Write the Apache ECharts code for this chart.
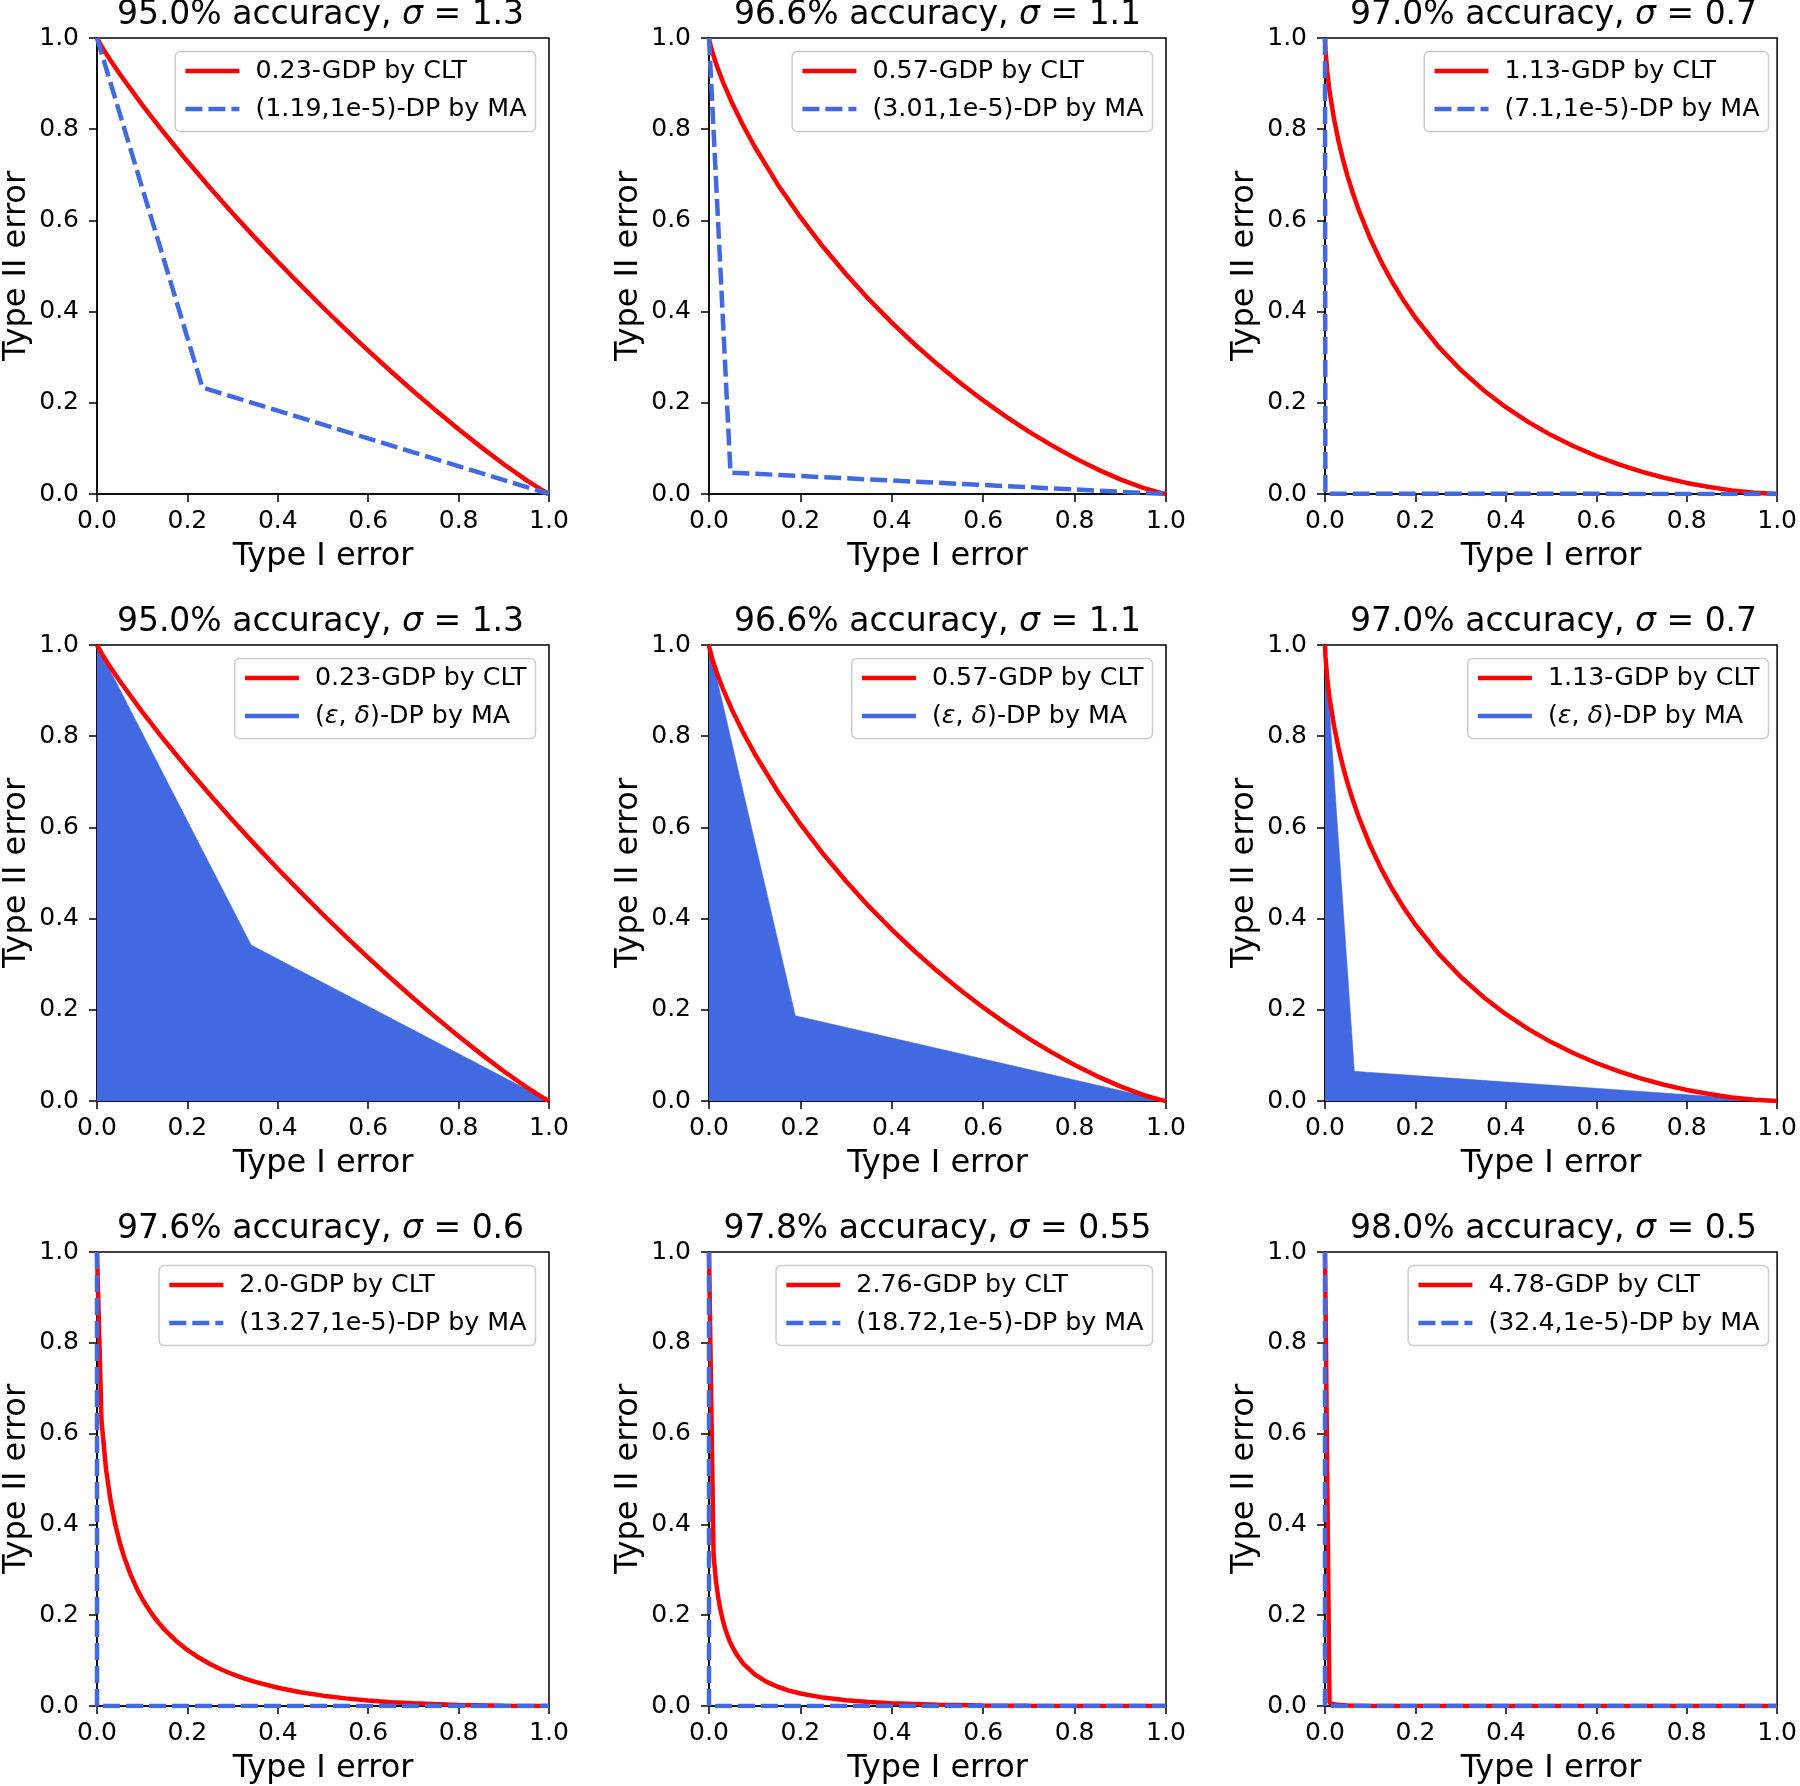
<!DOCTYPE html>
<html>
<head>
<meta charset="utf-8">
<script src="https://cdn.jsdelivr.net/npm/echarts@6/dist/echarts.min.js"></script>
<style>html,body{margin:0;padding:0;background:#fff}#c{width:1800px;height:1786px}</style>
</head>
<body>
<div id="c"></div>
<script>
// ---- data ----
const titles = [
  '95.0% accuracy, {i|σ} = 1.3', '96.6% accuracy, {i|σ} = 1.1', '97.0% accuracy, {i|σ} = 0.7',
  '95.0% accuracy, {i|σ} = 1.3', '96.6% accuracy, {i|σ} = 1.1', '97.0% accuracy, {i|σ} = 0.7',
  '97.6% accuracy, {i|σ} = 0.6', '97.8% accuracy, {i|σ} = 0.55', '98.0% accuracy, {i|σ} = 0.5'
];
const gdpLabels = ['0.23-GDP by CLT', '0.57-GDP by CLT', '1.13-GDP by CLT',
  '0.23-GDP by CLT', '0.57-GDP by CLT', '1.13-GDP by CLT',
  '2.0-GDP by CLT', '2.76-GDP by CLT', '4.78-GDP by CLT'];
const dpLabels = ['(1.19,1e-5)-DP by MA', '(3.01,1e-5)-DP by MA', '(7.1,1e-5)-DP by MA',
  '(ε,δ)-DP by MA', '(ε,δ)-DP by MA', '(ε,δ)-DP by MA',
  '(13.27,1e-5)-DP by MA', '(18.72,1e-5)-DP by MA', '(32.4,1e-5)-DP by MA'];
const xTicks = [0.0, 0.2, 0.4, 0.6, 0.8, 1.0];
const yTicks = [0.0, 0.2, 0.4, 0.6, 0.8, 1.0];

const gdp023 = [[0,1],[0.001,0.998],[0.01,0.982],[0.02,0.9659],[0.03,0.9506],[0.05,0.9215],[0.1,0.8535],[0.15,0.790],[0.2,0.7296],[0.25,0.6717],[0.3,0.6158],[0.35,0.5617],[0.4,0.5093],[0.45,0.4585],[0.5,0.409],[0.55,0.361],[0.6,0.3144],[0.65,0.2692],[0.7,0.2253],[0.75,0.1829],[0.8,0.1419],[0.85,0.1028],[0.9,0.0653],[0.95,0.0304],[0.99,0.0053],[1,0]];
const gdp057 = [[0,1],[0.001,0.9941],[0.005,0.9776],[0.01,0.9605],[0.02,0.9311],[0.03,0.9051],[0.05,0.8588],[0.075,0.8078],[0.1,0.7616],[0.15,0.6794],[0.2,0.607],[0.25,0.5416],[0.3,0.4818],[0.35,0.4267],[0.4,0.3757],[0.45,0.3284],[0.5,0.2843],[0.55,0.2433],[0.6,0.2052],[0.65,0.1697],[0.7,0.1369],[0.75,0.1067],[0.8,0.079],[0.85,0.0541],[0.9,0.032],[0.95,0.0134],[0.99,0.0019],[1,0]];
const gdp113 = [[0,1],[0.001,0.975],[0.005,0.9259],[0.01,0.8841],[0.02,0.8223],[0.03,0.7737],[0.04,0.7327],[0.05,0.6967],[0.06,0.6646],[0.075,0.6217],[0.1,0.5602],[0.125,0.508],[0.15,0.4626],[0.175,0.4225],[0.2,0.3865],[0.25,0.3244],[0.3,0.2724],[0.35,0.2282],[0.4,0.1903],[0.45,0.1576],[0.5,0.1292],[0.55,0.1046],[0.6,0.0833],[0.65,0.0649],[0.7,0.049],[0.75,0.0356],[0.8,0.0243],[0.85,0.0152],[0.9,0.0079],[0.95,0.0028],[1,0]];
const gdp200 = [[0,1],[0.01,0.6278],[0.02,0.5215],[0.03,0.4526],[0.04,0.4017],[0.05,0.3613],[0.06,0.3282],[0.075,0.2877],[0.09,0.2548],[0.1,0.2362],[0.11,0.2196],[0.125,0.1977],[0.135,0.185],[0.15,0.1675],[0.175,0.1434],[0.2,0.1234],[0.225,0.1067],[0.25,0.0925],[0.275,0.0805],[0.3,0.07],[0.325,0.061],[0.35,0.0532],[0.4,0.0403],[0.45,0.0304],[0.5,0.0228],[0.55,0.0168],[0.6,0.0121],[0.65,0.0085],[0.7,0.0058],[0.8,0.0022],[0.9,0.0005],[1,0]];
const gdp276 = [[0,1],[0.01,0.3321],[0.015,0.2776],[0.02,0.2401],[0.025,0.2119],[0.03,0.1897],[0.035,0.1716],[0.04,0.1565],[0.045,0.1434],[0.05,0.1324],[0.06,0.1141],[0.075,0.0934],[0.1,0.0697],[0.125,0.0537],[0.15,0.0424],[0.175,0.034],[0.2,0.0275],[0.25,0.0185],[0.3,0.0127],[0.35,0.0088],[0.4,0.0061],[0.5,0.0029],[0.6,0.0013],[0.7,0.0005],[0.8,0.0002],[0.9,0],[1,0]];
const gdp478 = [[0,1],[0.01,0.0071],[0.02,0.0032],[0.05,0.0009],[0.1,0.0002],[0.2,0],[1,0]];

const dp119 = [[0,1],[0.2333,0.2333],[1,0]];
const dp301 = [[0,1],[0.047,0.047],[1,0]];
const dp710 = [[0,1],[0.0008,0.0008],[1,0]];
const dp1327 = [[0,1],[0.000002,0.000002],[1,0]];
const dp1872 = [[0,1],[0,0],[1,0]];
const dp3240 = [[0,1],[0,0],[1,0]];
const fillA = [[0,1],[0.341,0.342],[1,0]];
const fillB = [[0,1],[0.189,0.187],[1,0]];
const fillC = [[0,1],[0.065,0.065],[1,0]];

const gdpCurves = [gdp023, gdp057, gdp113, gdp023, gdp057, gdp113, gdp200, gdp276, gdp478];
const dpCurves = [dp119, dp301, dp710, fillA, fillB, fillC, dp1327, dp1872, dp3240];
const dpFilled = [false, false, false, true, true, true, false, false, false];

// ---- layout ----
const FONT = 'DejaVu Sans';
const colLeft = [92, 709, 1325];
const rowTop = [38, 645, 1252];
const W = 457, H = 456;
const RED = '#ff0000', BLUE = '#4169e1';

const grids = [], xAxes = [], yAxes = [], titleOpts = [], legends = [], series = [];
for (let i = 0; i < 9; i++) {
  const L = colLeft[i % 3], T = rowTop[Math.floor(i / 3)];
  grids.push({left: L, top: T, width: W, height: H, show: true, borderColor: '#000', borderWidth: 1.5, backgroundColor: 'transparent'});
  const axisCommon = {
    type: 'value', gridIndex: i, min: xTicks[0], max: xTicks[xTicks.length - 1], interval: 0.2,
    axisLine: {show: true, onZero: false, lineStyle: {color: '#000', width: 1.5}},
    axisTick: {show: true, inside: false, length: 8, lineStyle: {color: '#000', width: 1.5}},
    splitLine: {show: false},
    axisLabel: {fontSize: 25, fontFamily: FONT, color: '#000', formatter: v => v.toFixed(1)},
    nameLocation: 'middle',
    nameTextStyle: {fontSize: 32, fontFamily: FONT, color: '#000'}
  };
  xAxes.push(Object.assign({}, axisCommon, {position: 'bottom', name: 'Type I error', nameGap: 47,
    axisLabel: Object.assign({}, axisCommon.axisLabel, {margin: 15})}));
  yAxes.push(Object.assign({}, axisCommon, {position: 'left', name: 'Type II error', nameGap: 64,
    min: yTicks[0], max: yTicks[yTicks.length - 1],
    axisLabel: Object.assign({}, axisCommon.axisLabel, {margin: 18})}));
  titleOpts.push({
    text: titles[i], left: L + W / 2, top: T - 41, textAlign: 'center', padding: 0,
    textStyle: {fontSize: 33, fontWeight: 'normal', color: '#000', fontFamily: FONT, lineHeight: 36,
      rich: {i: {fontStyle: 'italic', fontSize: 33, fontFamily: FONT, color: '#000', lineHeight: 36}}}
  });
  legends.push({
    orient: 'vertical', right: 1800 - (L + W - 13.5), top: T + 13.5,
    data: [gdpLabels[i], dpLabels[i]], selectedMode: false,
    itemWidth: 54, itemHeight: 12, itemGap: 13,
    padding: [7, 9, 10, 8], backgroundColor: 'rgba(255,255,255,0.8)',
    borderColor: '#cccccc', borderWidth: 1.5, borderRadius: 5,
    lineStyle: {width: 4.5},
    itemStyle: {opacity: 0, borderWidth: 0},
    formatter: n => n.replace('(ε,δ)', '({i|ε}, {i|δ})'),
    textStyle: {fontSize: 25.3, fontFamily: FONT, color: '#000', padding: [0, 0, 0, 11],
      rich: {i: {fontStyle: 'italic', fontSize: 25.3, fontFamily: FONT, color: '#000'}}}
  });
  series.push({
    type: 'line', name: gdpLabels[i], xAxisIndex: i, yAxisIndex: i, data: gdpCurves[i],
    symbol: 'none', color: RED, lineStyle: {color: RED, width: 4.5}, z: 3, animation: false
  });
  if (dpFilled[i]) {
    series.push({
      type: 'line', name: dpLabels[i], xAxisIndex: i, yAxisIndex: i, data: dpCurves[i],
      symbol: 'none', color: BLUE, lineStyle: {color: BLUE, width: 0.5},
      areaStyle: {color: BLUE, opacity: 1}, z: 1, animation: false
    });
  } else {
    series.push({
      type: 'line', name: dpLabels[i], xAxisIndex: i, yAxisIndex: i, data: dpCurves[i],
      symbol: 'none', color: BLUE, lineStyle: {color: BLUE, width: 4.5, type: [17, 6]}, z: 4, animation: false
    });
  }
}

const chart = echarts.init(document.getElementById('c'), null, {renderer: 'canvas'});
chart.setOption({
  animation: false,
  backgroundColor: '#fff',
  textStyle: {fontFamily: FONT},
  title: titleOpts, grid: grids, xAxis: xAxes, yAxis: yAxes, legend: legends, series: series
});
</script>
</body>
</html>
